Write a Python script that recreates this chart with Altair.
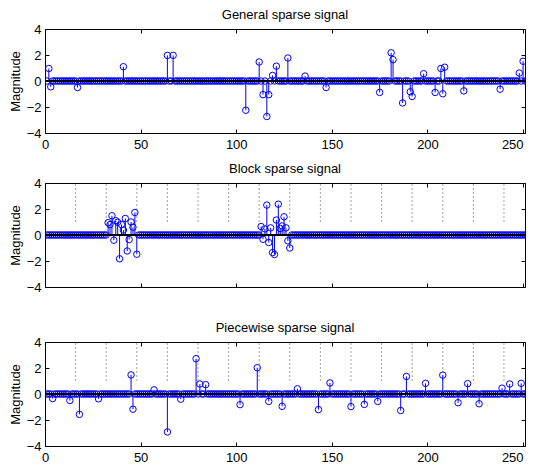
import altair as alt
import pandas as pd

N = 256

# General sparse signal (index, value)
general_idx = [2, 3, 17, 41, 64, 67, 105, 112, 114, 116, 117, 119, 121, 127, 136, 147,
               175, 181, 182, 187, 191, 192, 198, 204, 207, 208, 209, 219, 238, 248, 250, 256]
general_val = [0.96, -0.45, -0.5, 1.1, 1.97, 1.97, -2.25, 1.46, -1.05, -2.73, -1.05, 0.43, 1.14, 1.77, 0.38, -0.5,
               -0.88, 2.17, 1.64, -1.69, -0.83, -1.19, 0.56, -0.88, 0.96, -0.98, 1.06, -0.76, -0.63, 0.61, 1.52, -1.69]

# Block sparse signal
block_idx = [33, 34, 35, 36, 37, 38, 39, 40, 41, 42, 43, 44, 45, 46, 47, 48,
             113, 114, 115, 116, 117, 118, 119, 120, 121, 122, 123, 124, 125, 126, 127, 128]
block_val = [0.95, 0.8, 1.48, -0.4, 1.1, 0.98, -1.83, 0.8, 0.38, 1.27, -1.23, -0.35, 1.0, 0.6, 1.73, -1.48,
             0.65, -0.33, 0.47, 2.3, -0.58, 0.55, -1.35, -1.5, 1.15, 2.37, 0.5, 0.7, 1.4, 0.55, -0.45, -1.0]

# Piecewise sparse signal
piece_idx = [4, 13, 18, 28, 45, 46, 57, 64, 71, 79, 81, 84, 102, 111, 117, 124,
             132, 143, 149, 160, 167, 174, 186, 189, 199, 208, 216, 221, 227, 239, 243, 249]
piece_val = [-0.35, -0.5, -1.57, -0.37, 1.47, -1.17, 0.32, -2.92, -0.4, 2.72, 0.77, 0.72, -0.82, 2.02, -0.57, -0.95,
             0.4, -1.2, 0.85, -0.97, -0.8, -0.57, -1.27, 1.35, 0.82, 1.45, -0.67, 0.8, -0.75, 0.45, 0.77, 0.82]

block_edges = [16, 32, 48, 64, 80, 96, 112, 128, 144, 160, 176, 192, 208, 224, 240]

x_ticks = [0, 50, 100, 150, 200, 250]
y_ticks = [-4, -2, 0, 2, 4]
x_visible = [0, 251]   # the reference is cropped at the right edge
y_range = [-4, 4]

BLUE = "#0000ff"
FONT = "Liberation Sans"
W, H = 480, 104


def make_df(idx, val):
    v = [0.0] * N
    for i, a in zip(idx, val):
        v[i - 1] = a
    return pd.DataFrame({"n": list(range(1, N + 1)), "v": v, "z": [0.0] * N})


def panel(df, title, labels, edges):
    xs = alt.Scale(domain=x_visible, nice=False, zero=False)
    ys = alt.Scale(domain=y_range, nice=False, zero=False)
    common = dict(offset=-4, tickSize=4, domain=False, grid=False, tickColor="black",
                  tickWidth=1, labelFont=FONT, labelFontSize=13, labelColor="black",
                  labelFlush=False)
    ax_b = alt.Axis(orient="bottom", values=x_ticks, labels=labels, labelPadding=5,
                    title=None, format="d",
                    labelAlign={"condition": {"test": "datum.value >= 250", "value": "right"},
                                "value": "center"},
                    **common)
    ax_t = alt.Axis(orient="top", values=x_ticks, labels=False, title=None, **common)
    ax_l = alt.Axis(orient="left", values=y_ticks, labelPadding=4, format="d",
                    title="Magnitude", titleFont=FONT, titleFontSize=13,
                    titleFontWeight="normal", titleColor="black", titlePadding=4,
                    **common)
    ax_r = alt.Axis(orient="right", values=y_ticks, labels=False, title=None, **common)

    layers = []
    if edges:
        layers.append(
            alt.Chart(pd.DataFrame({"b": edges}))
            .mark_rule(color="#8c8c8c", strokeWidth=0.8, strokeDash=[2, 2])
            .encode(x=alt.X("b:Q", scale=xs, axis=None),
                    y=alt.YDatum(1, axis=None), y2=alt.datum(4))
        )
    layers.append(
        alt.Chart(df).mark_rule(color=BLUE, strokeWidth=1, clip=True)
        .encode(x=alt.X("n:Q", scale=xs, axis=ax_b),
                y=alt.Y("z:Q", scale=ys, axis=ax_l), y2="v:Q")
    )
    layers.append(
        alt.Chart(df).mark_point(shape="circle", filled=False, size=42, color=BLUE,
                                 strokeWidth=1, opacity=1, clip=True)
        .encode(x=alt.X("n:Q", scale=xs, axis=ax_t),
                y=alt.Y("v:Q", scale=ys, axis=ax_r))
    )
    layers.append(
        alt.Chart(df).mark_rule(color="black", strokeWidth=1)
        .encode(y=alt.YDatum(0, axis=None))
    )
    return (
        alt.layer(*layers)
        .resolve_axis(x="independent", y="independent")
        .properties(
            width=W, height=H,
            title=alt.TitleParams(title, fontSize=13, fontWeight="normal", font=FONT,
                                  color="black", offset=1, frame="group", anchor="middle"),
        )
    )


p1 = panel(make_df(general_idx, general_val), "General sparse signal", True, None)
p2 = panel(make_df(block_idx, block_val), "Block sparse signal", False, block_edges)
p3 = panel(make_df(piece_idx, piece_val), "Piecewise sparse signal", True, block_edges)

chart = (
    alt.vconcat(p1, alt.vconcat(p2, p3, spacing=26), spacing=10)
    .properties(padding=0)
    .configure_view(stroke="black", strokeWidth=1)
)

chart.save("out.html", embed_options={"renderer": "svg", "actions": False})
